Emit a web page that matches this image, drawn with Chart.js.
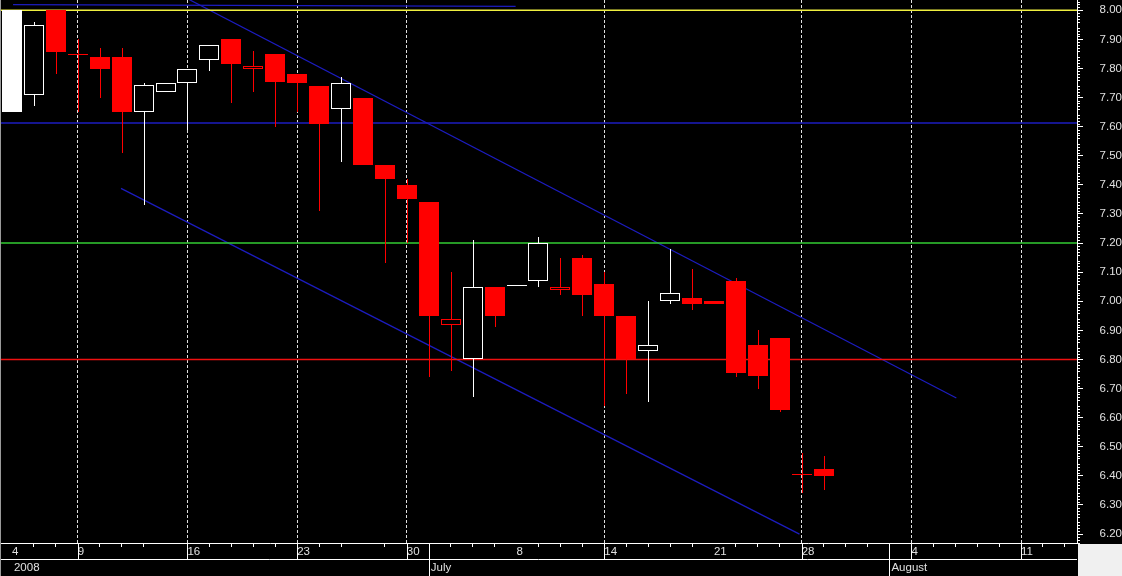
<!DOCTYPE html>
<html>
<head>
<meta charset="utf-8">
<script src="https://cdn.jsdelivr.net/npm/chart.js@4.4.1/dist/chart.umd.min.js"></script>
<style>
html, body { margin: 0; padding: 0; background: #000; }
#wrap { width: 1122px; height: 576px; position: relative; }
</style>
</head>
<body>
<div id="wrap"><canvas id="priceChart"></canvas></div>
<script>
// trading days on the axis, the last ones have no candle yet
const dates = [
  '2008-06-04', '2008-06-05', '2008-06-06', '2008-06-09', '2008-06-10', '2008-06-11', '2008-06-12', '2008-06-13',
  '2008-06-16', '2008-06-17', '2008-06-18', '2008-06-19', '2008-06-20', '2008-06-23', '2008-06-24', '2008-06-25',
  '2008-06-26', '2008-06-27', '2008-06-30', '2008-07-01', '2008-07-02', '2008-07-03', '2008-07-07', '2008-07-08',
  '2008-07-09', '2008-07-10', '2008-07-11', '2008-07-14', '2008-07-15', '2008-07-16', '2008-07-17', '2008-07-18',
  '2008-07-21', '2008-07-22', '2008-07-23', '2008-07-24', '2008-07-28', '2008-07-29', '2008-07-30', '2008-07-31',
  '2008-08-01', '2008-08-04', '2008-08-05', '2008-08-06', '2008-08-07', '2008-08-08', '2008-08-11', '2008-08-12',
  '2008-08-13'
];

const opens  = [8.00, 7.71, 8.00, 7.85, 7.84, 7.84, 7.65, 7.72, 7.75, 7.83, 7.90, 7.80, 7.85, 7.78, 7.74, 7.66, 7.70, 7.47, 7.40,
                7.34, 6.92, 6.80, 7.05, 7.055, 7.07, 7.04, 7.15, 7.06, 6.95, 6.83, 7.00, 7.01, 7.00, 7.07, 6.85, 6.875, 6.405, 6.425];
const highs  = [8.00, 7.96, 8.00, 7.90, 7.87, 7.87, 7.75, 7.75, 7.80, 7.88, 7.90, 7.86, 7.85, 7.78, 7.74, 7.77, 7.70, 7.47, 7.42,
                7.34, 7.10, 7.21, 7.05, 7.055, 7.22, 7.15, 7.16, 7.10, 6.95, 7.00, 7.18, 7.11, 7.00, 7.08, 6.90, 6.875, 6.48, 6.47];
const lows   = [7.65, 7.67, 7.78, 7.65, 7.70, 7.51, 7.33, 7.72, 7.59, 7.79, 7.68, 7.72, 7.60, 7.65, 7.31, 7.48, 7.47, 7.13, 7.20,
                6.74, 6.76, 6.67, 6.91, 7.055, 7.05, 7.02, 6.95, 6.64, 6.68, 6.655, 6.99, 6.97, 6.99, 6.74, 6.70, 6.62, 6.34, 6.35];
const closes = [7.65, 7.95, 7.855, 7.85, 7.80, 7.65, 7.745, 7.75, 7.80, 7.88, 7.815, 7.81, 7.755, 7.75, 7.61, 7.75, 7.47, 7.42, 7.35,
                6.95, 6.94, 7.05, 6.95, 7.055, 7.20, 7.05, 7.02, 6.95, 6.80, 6.85, 7.03, 6.99, 6.99, 6.755, 6.745, 6.625, 6.405, 6.40];

// horizontal levels and trend lines ([slot, price] end points)
const levels = [8.00, 7.613, 7.20, 6.80];
const levelColors = ['#f0f040', '#1c1cc0', '#33cc33', '#f01010'];
const trendLines = [
  [[0.05, 8.0195], [22.96, 8.0135]],
  [[8.0, 8.04], [43.05, 6.668]],
  [[4.97, 7.388], [35.9, 6.20]]
];

const labelSlots = [0, 3, 8, 13, 18, 23, 27, 32, 36, 41, 46];
const gridSlots = [3, 8, 13, 18, 27, 36, 41, 46];
const noTickSlots = [7, 16];
const monthNames = ['January', 'February', 'March', 'April', 'May', 'June', 'July', 'August', 'September', 'October', 'November', 'December'];

const X_MIN = -0.5, X_MAX = 48.55, Y_MIN = 6.1694, Y_MAX = 8.0354;
const RED = '#ff0000', WHITE = '#ffffff', TXT = '#e0e0e0';

Chart.defaults.font.family = '"Liberation Sans", Arial, sans-serif';
Chart.defaults.font.size = 11.5;

let monthStarts = [];
dates.forEach((d, i) => {
  if (i > 0 && d.slice(5, 7) !== dates[i - 1].slice(5, 7)) monthStarts.push(i);
});

const lineSets = [];
levels.forEach((v, i) => {
  lineSets.push({ data: [{ x: X_MIN, y: v }, { x: X_MAX, y: v }], borderColor: levelColors[i], borderWidth: 1.5, pointRadius: 0 });
});
trendLines.forEach(t => {
  lineSets.push({ data: t.map(p => ({ x: p[0], y: p[1] })), borderColor: '#1c1cc0', borderWidth: 1.2, pointRadius: 0 });
});

const candlePlugin = {
  id: 'candles',
  afterDatasetsDraw(chart) {
    const { ctx, chartArea, scales: { x, y } } = chart;
    const half = (x.getPixelForValue(1) - x.getPixelForValue(0)) * 0.445;
    ctx.save();
    ctx.beginPath();
    ctx.rect(chartArea.left, chartArea.top, chartArea.width, chartArea.height);
    ctx.clip();
    ctx.lineWidth = 1;
    opens.forEach((o, i) => {
      const c = closes[i];
      const prev = i > 0 ? closes[i - 1] : -Infinity;
      const col = c > prev ? WHITE : RED;
      const xp = Math.round(x.getPixelForValue(i));
      const yo = y.getPixelForValue(o), yc = y.getPixelForValue(c);
      ctx.strokeStyle = col;
      ctx.fillStyle = col;
      ctx.beginPath();
      ctx.moveTo(xp + 0.5, Math.round(y.getPixelForValue(highs[i])));
      ctx.lineTo(xp + 0.5, Math.round(y.getPixelForValue(lows[i])));
      ctx.stroke();
      const l = Math.round(xp - half), r = Math.round(xp + half);
      const top = Math.round(Math.min(yo, yc)), bot = Math.round(Math.max(yo, yc));
      if (bot - top < 1) {
        ctx.beginPath();
        ctx.moveTo(l, top + 0.5);
        ctx.lineTo(r, top + 0.5);
        ctx.stroke();
      } else if (c < o) {
        ctx.fillRect(l, top, r - l, bot - top);
      } else {
        ctx.fillStyle = '#000';
        ctx.fillRect(l, top, r - l, bot - top);
        ctx.strokeRect(l + 0.5, top + 0.5, r - l - 1, bot - top - 1);
      }
    });
    ctx.restore();
  }
};

const axisPlugin = {
  id: 'axisExtras',
  afterDraw(chart) {
    const { ctx, width, height, scales: { x, y } } = chart;
    ctx.save();
    ctx.lineWidth = 1;
    // minor ticks on the price axis
    ctx.strokeStyle = WHITE;
    for (let k = Math.ceil(Y_MIN * 100); k <= Math.floor(Y_MAX * 100); k++) {
      if (k % 5 === 0) continue;
      const py = Math.round(y.getPixelForValue(k / 100)) + 0.5;
      ctx.beginPath();
      ctx.moveTo(y.left, py);
      ctx.lineTo(y.left + 3, py);
      ctx.stroke();
    }
    const rowY = Math.round(x.top) + 16.5;
    ctx.beginPath();
    ctx.moveTo(0, rowY);
    ctx.lineTo(x.right, rowY);
    ctx.stroke();
    gridSlots.forEach(s => {
      const px = Math.round(x.getPixelForValue(s)) + 0.5;
      ctx.beginPath();
      ctx.moveTo(px, x.top);
      ctx.lineTo(px, rowY);
      ctx.stroke();
    });
    monthStarts.forEach(s => {
      const px = Math.round(x.getPixelForValue(s)) + 0.5;
      ctx.beginPath();
      ctx.moveTo(px, x.top);
      ctx.lineTo(px, height);
      ctx.stroke();
    });
    // year / month row
    ctx.fillStyle = TXT;
    ctx.font = '11.5px "Liberation Sans", Arial, sans-serif';
    ctx.textBaseline = 'middle';
    ctx.textAlign = 'left';
    ctx.fillText(dates[0].slice(0, 4), x.getPixelForValue(0) + 2, rowY + 8.5);
    monthStarts.forEach(s => {
      ctx.fillText(monthNames[+dates[s].slice(5, 7) - 1], x.getPixelForValue(s) + 2, rowY + 8.5);
    });
    // corner and left edge
    ctx.fillStyle = '#f0f0f0';
    ctx.fillRect(Math.round(x.right) + 1, Math.round(x.top) + 1, width - x.right, height - x.top);
    ctx.strokeStyle = '#9a9a9a';
    ctx.beginPath();
    ctx.moveTo(0.5, 0);
    ctx.lineTo(0.5, height);
    ctx.stroke();
    ctx.restore();
  }
};

const hidden = 'rgba(0,0,0,0)';

new Chart(document.getElementById('priceChart'), {
  type: 'line',
  data: { datasets: lineSets },
  options: {
    responsive: true,
    maintainAspectRatio: false,
    animation: false,
    layout: { autoPadding: false, padding: { left: 1, top: 0, right: 0, bottom: 0 } },
    plugins: { legend: { display: false }, tooltip: { enabled: false } },
    scales: {
      x: {
        type: 'linear',
        min: X_MIN,
        max: X_MAX,
        afterFit: s => { s.height = 33; s.paddingLeft = 0; s.paddingRight = 0; },
        ticks: {
          stepSize: 1,
          includeBounds: false,
          autoSkip: false,
          maxRotation: 0,
          align: 'start',
          padding: -2,
          color: TXT,
          callback: v => labelSlots.includes(v) ? String(+dates[v].slice(8)) : ''
        },
        grid: {
          drawOnChartArea: true,
          tickLength: 4,
          color: c => gridSlots.includes(c.tick && c.tick.value) ? '#e0e0e0' : hidden,
          tickColor: c => {
            const v = c.tick && c.tick.value;
            if (labelSlots.includes(v) || gridSlots.includes(v) || noTickSlots.includes(v) || monthStarts.includes(v)) return hidden;
            return WHITE;
          }
        },
        border: { color: WHITE, dash: [3, 2] }
      },
      y: {
        position: 'right',
        min: Y_MIN,
        max: Y_MAX,
        afterFit: s => { s.width = 45; s.paddingTop = 0; s.paddingBottom = 0; },
        ticks: {
          stepSize: 0.05,
          includeBounds: false,
          color: TXT,
          padding: 14,
          crossAlign: 'far',
          callback: v => v.toFixed(2)
        },
        grid: { drawOnChartArea: false, tickLength: 6, color: WHITE },
        border: { color: WHITE }
      }
    }
  },
  plugins: [candlePlugin, axisPlugin]
});
</script>
</body>
</html>
